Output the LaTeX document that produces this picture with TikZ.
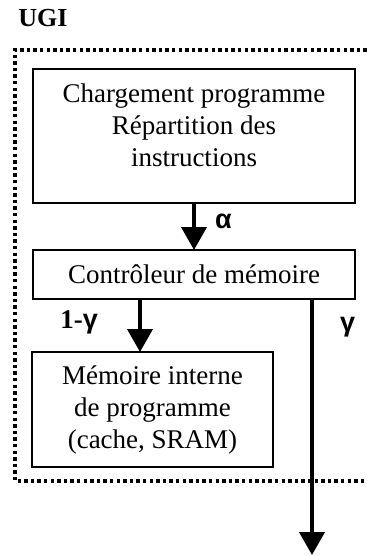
\documentclass[tikz,border=0pt]{standalone}
\usepackage{fontspec}
\setmainfont{Liberation Serif}
\newfontfamily\greekfont{Liberation Sans}
\usetikzlibrary{positioning,arrows.meta}
\tikzset{
	bloc/.style={draw=black, line width=1pt, outer sep=0pt, inner sep=0pt, minimum width=161pt},
	flux/.style={line width=2pt, -{Triangle[width=12.5pt,length=11.5pt]}},
	etiq/.style={inner sep=0pt, font=\fontsize{13.5pt}{16pt}\selectfont\bfseries},
	cadre/.style={line width=1.75pt, dash pattern=on 1.7pt off 1.6pt}
}

\begin{document}
\begin{tikzpicture}[font=\fontsize{13.5pt}{16pt}\selectfont]
	\useasboundingbox (0,0) rectangle (183.5pt,-278pt);
	\node[anchor=base west, inner sep=0pt, font=\fontsize{13pt}{15pt}\selectfont\bfseries] (ugi) at (9pt,-13.5pt) {UGI};
	\draw[cadre] (190pt,-25pt) -- (7.5pt,-25pt) -- (7.5pt,-240.5pt) -- (190pt,-240.5pt);

	\node[bloc, minimum height=67pt] (charge) at (97pt,-68pt) {\raisebox{4pt}[\height][\depth]{\begin{tabular}{@{}c@{}}Chargement programme\\Répartition des\\instructions\end{tabular}}};
	\node[bloc, minimum height=24.5pt, below=23.5pt of charge] (ctrl) {Contrôleur de mémoire};
	\node[bloc, minimum width=120.5pt, minimum height=57.5pt, align=center, below right=26.5pt and -0.5pt of ctrl.south west] (mem) {Mémoire interne\\de programme\\(cache, SRAM)};

	\coordinate[right=53.5pt of ctrl.south west] (dep1);
	\coordinate (arr1) at (dep1 |- mem.north);
	\coordinate[left=21.5pt of ctrl.south east] (dep2);
	\coordinate[below=128pt of dep2] (sortie);

	\draw[flux] (charge) -- node[etiq, right=9.5pt, pos=0.4] (alpha) {\greekfont α} (ctrl);
	\draw[flux] (dep1) -- node[etiq, left=20pt, pos=0.45] (unmoins) {1-{\greekfont γ}} (arr1);
	\draw[flux] (dep2) -- node[etiq, right=13pt, pos=0.11] (gamma) {\greekfont γ} (sortie);
\end{tikzpicture}
\end{document}
